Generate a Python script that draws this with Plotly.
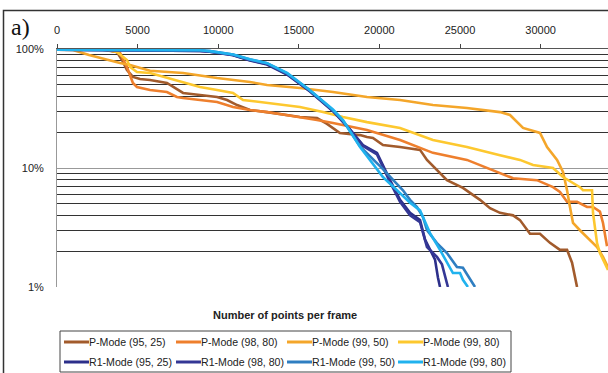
import plotly.graph_objects as go

# ---------------- data (x = number of points per frame, y = percent of frames) ----------------
names = ["P-Mode (95, 25)", "P-Mode (98, 80)", "P-Mode (99, 50)", "P-Mode (99, 80)",
         "R1-Mode (95, 25)", "R1-Mode (98, 80)", "R1-Mode (99, 50)", "R1-Mode (99, 80)"]
colors = ["#A25B2C", "#EE7F2D", "#F4A62A", "#FDC82F",
          "#2C2F8A", "#343795", "#2F7EC1", "#20B2EE"]

x_p95_25 = [0, 2850, 3720, 4030, 4340, 4710, 5150, 5770, 6820, 7200, 7820, 8870, 9930, 10550, 11170,
            11970, 13030, 15070, 16130, 16750, 17120, 17550, 18800, 19230, 19600, 20220, 21280, 22520,
            22950, 23760, 24190, 25180, 26240, 26860, 27480, 28290, 28720, 29340, 29960, 30580, 31200,
            31640, 31950, 32260]
y_p95_25 = [98.8, 98.5, 94.4, 80.8, 66.6, 58.2, 56.0, 54.9, 51.8, 47.9, 42.7, 41.1, 39.5, 37.3, 33.8,
            30.7, 29.5, 26.8, 26.3, 23.5, 21.7, 19.7, 18.9, 18.2, 17.9, 15.6, 15.0, 14.2,
            11.7, 9.1, 7.9, 6.8, 5.4, 4.6, 4.2, 4.0, 3.65, 2.8, 2.8, 2.35, 2.05,
            2.05, 1.6, 1.0]

x_p98_80 = [0, 3100, 3910, 4340, 4710, 4960, 5770, 6820, 7440, 7820, 8870, 9930, 10920, 11970, 13030,
            15070, 16130, 17120, 19230, 21280, 23320, 25430, 27050, 28290, 29770, 30770, 31200, 31640,
            32260, 32880, 33250, 33680, 33870, 34120]
y_p98_80 = [98.8, 98.5, 92.6, 70.6, 51.8, 47.9, 45.2, 43.5, 39.5, 38.7, 37.3, 35.9, 32.6, 30.7, 29.5,
            26.8, 25.3, 23.9, 20.9, 17.2, 13.4, 11.7, 9.6, 8.2, 7.9, 6.9, 6.3, 5.2,
            5.2, 4.7, 4.7, 4.3, 3.45, 2.2]

x_p99_50 = [0, 990, 1990, 2670, 3910, 4530, 5770, 7820, 9930, 11970, 13030, 15070, 17120, 19230, 21280,
            23320, 25430, 27480, 28100, 28910, 29960, 30400, 31020, 31390, 31640, 31820, 32010, 32440,
            32880, 33500, 33870, 34180]
y_p99_50 = [98.8, 98.1, 89.0, 84.0, 76.3, 73.4, 65.7, 62.9, 57.1, 52.8, 49.9, 47.0, 43.5, 39.5, 37.3,
            33.8, 31.9, 29.5, 27.9, 21.7, 19.7, 15.0, 11.7, 9.25, 6.5, 4.7, 3.45, 3.0,
            2.63, 2.17, 1.79, 1.47]

x_p99_80 = [0, 3100, 3720, 4340, 4530, 4960, 5770, 6820, 7820, 8870, 9930, 10920, 11540, 13030, 15070,
            16500, 17740, 19230, 21280, 23320, 25430, 27480, 28720, 29530, 30770, 31390, 32010, 32440,
            32630, 33190, 33250, 33500, 33680, 33990, 34180]
y_p99_80 = [98.8, 98.5, 94.4, 80.8, 70.6, 64.1, 62.9, 57.1, 52.8, 47.9, 45.2, 42.7, 37.3, 35.2, 32.6,
            29.5, 26.8, 24.3, 21.7, 17.2, 15.0, 12.8, 11.7, 10.6, 10.0, 8.4, 7.5, 6.9,
            6.5, 6.5, 4.19, 2.34, 1.93, 1.59, 1.39]

x_r95_25 = [0, 5770, 8870, 9490, 10920, 11970, 13030, 14270, 15690, 17120, 18180, 18980, 19850, 20660,
            21280, 21900, 22520, 22830, 23140, 23450, 23630, 23760]
y_r95_25 = [98.8, 98, 96.5, 95, 88.5, 80, 74, 61, 44, 30, 21, 15.6, 13.4, 7.9,
            5.4, 4.2, 3.66, 2.5, 2.05, 1.7, 1.2, 1.0]

x_r98_80 = [0, 5770, 8870, 9490, 10920, 11970, 13030, 14270, 15690, 17120, 18180, 18980, 19850, 20660,
            21280, 21900, 22520, 22950, 23570, 23880, 24070, 24250]
y_r98_80 = [98.8, 98, 96.5, 95, 89, 80.5, 75, 61.5, 44.5, 30.3, 21, 15.3, 13, 7.6,
            5.2, 4.0, 3.5, 2.17, 1.79, 1.55, 1.21, 1.0]

x_r99_50 = [0, 5770, 8870, 9490, 10920, 11970, 13030, 14270, 15690, 17120, 17740, 18800, 20220, 21460,
            21900, 22330, 22700, 22950, 23570, 24190, 24810, 25180, 25620, 25930]
y_r99_50 = [98.8, 98.5, 97.5, 96, 90, 81.5, 76, 62.5, 45, 30.5, 25, 15.2, 9.8, 6.5,
            5.4, 4.7, 3.88, 3.0, 2.34, 1.93, 1.47, 1.45, 1.15, 1.0]

x_r99_80 = [0, 5770, 8870, 9490, 10920, 11970, 13030, 14270, 15690, 17120, 17740, 18800, 20220, 21090,
            21900, 22520, 23140, 23760, 24190, 24560, 25000, 25180, 25490]
y_r99_80 = [98.8, 98.5, 97.5, 96, 90, 82, 76, 63, 45, 31, 25.3, 15.0, 8.4, 6.5,
            5.1, 4.4, 2.84, 2.05, 1.59, 1.31, 1.31, 1.15, 1.0]

xs = [x_p95_25, x_p98_80, x_p99_50, x_p99_80, x_r95_25, x_r98_80, x_r99_50, x_r99_80]
ys = [y_p95_25, y_p98_80, y_p99_50, y_p99_80, y_r95_25, y_r98_80, y_r99_50, y_r99_80]

x_ticks = [0, 5000, 10000, 15000, 20000, 25000, 30000]
x_ticktext = ["0", "5000", "10000", "15000", "20000", "25000", "30000"]
y_ticks = [1, 10, 100]
y_ticktext = ["1%", "10%", "100%"]
y_minor = [2, 3, 4, 5, 6, 7, 8, 9, 20, 30, 40, 50, 60, 70, 80, 90]

# ---------------- figure ----------------
W, H = 608, 373
L, R, T, B = 57, 0, 49, 86
pw, ph = W - L - R, H - T - B


def px(xp):
    return (xp - L) / pw


def py(yp):
    return (H - B - yp) / ph


fig = go.Figure()
for n, x, y, c in zip(names, xs, ys, colors):
    fig.add_trace(go.Scatter(x=x, y=y, mode="lines", name=n, showlegend=False,
                             line=dict(color=c, width=2.6)))

fig.update_layout(
    width=W, height=H,
    margin=dict(l=L, r=R, t=T, b=B, autoexpand=False),
    paper_bgcolor="white", plot_bgcolor="white",
    font=dict(family="Arial, 'Liberation Sans', sans-serif", size=11, color="#222"),
    showlegend=False,
)

fig.update_xaxes(
    range=[0, 34180], side="top", tickvals=x_ticks, ticktext=x_ticktext, ticks="outside", ticklen=4,
    tickcolor="#444", showline=True, linecolor="#555", linewidth=1, showgrid=False,
    zeroline=False, ticklabelstandoff=6, tickfont=dict(size=11, color="#222"),
)
fig.update_yaxes(
    type="log", range=[0, 2], tickvals=y_ticks, ticktext=y_ticktext, ticks="",
    showline=True, linecolor="#999", linewidth=1, showgrid=True, gridcolor="#999",
    gridwidth=1, zeroline=False, ticklabelstandoff=10, tickfont=dict(size=11, color="#222"),
    minor=dict(tickvals=y_minor, showgrid=True, gridcolor="#333", gridwidth=1, ticks=""),
)

# axis title (placed below the plot because the axis is on top)
fig.add_annotation(text="<b>Number of points per frame</b>", xref="paper", yref="paper",
                   x=px(285), y=py(315), showarrow=False, xanchor="center", yanchor="middle",
                   font=dict(size=11, color="#222"))
# panel label
fig.add_annotation(text="a)", xref="paper", yref="paper", x=px(20), y=py(27), showarrow=False,
                   xanchor="center", yanchor="middle",
                   font=dict(family="'Times New Roman', 'Liberation Serif', serif", size=24, color="#111"))

# outer frame
fig.add_shape(type="rect", xref="paper", yref="paper", x0=px(3.5), x1=px(700), y0=py(500), y1=py(10.5),
              line=dict(color="#333", width=1.5), layer="above")

# legend (two rows of four entries inside a box)
fig.add_shape(type="rect", xref="paper", yref="paper", x0=px(60), x1=px(511), y0=py(372), y1=py(331),
              line=dict(color="#444", width=1), layer="above")
leg_col_x = [64, 176, 287, 398]
leg_row_y = [342, 362]
for i, (n, c) in enumerate(zip(names, colors)):
    r, k = divmod(i, 4)
    x0 = leg_col_x[k]
    yy = leg_row_y[r]
    fig.add_shape(type="line", xref="paper", yref="paper", x0=px(x0), x1=px(x0 + 25),
                  y0=py(yy), y1=py(yy), line=dict(color=c, width=3), layer="above")
    fig.add_annotation(text=n, xref="paper", yref="paper", x=px(x0 + 25), y=py(yy),
                       showarrow=False, xanchor="left", yanchor="middle", borderpad=0, borderwidth=0,
                       font=dict(size=10.6, color="#222"))

fig.write_html("out.html")
